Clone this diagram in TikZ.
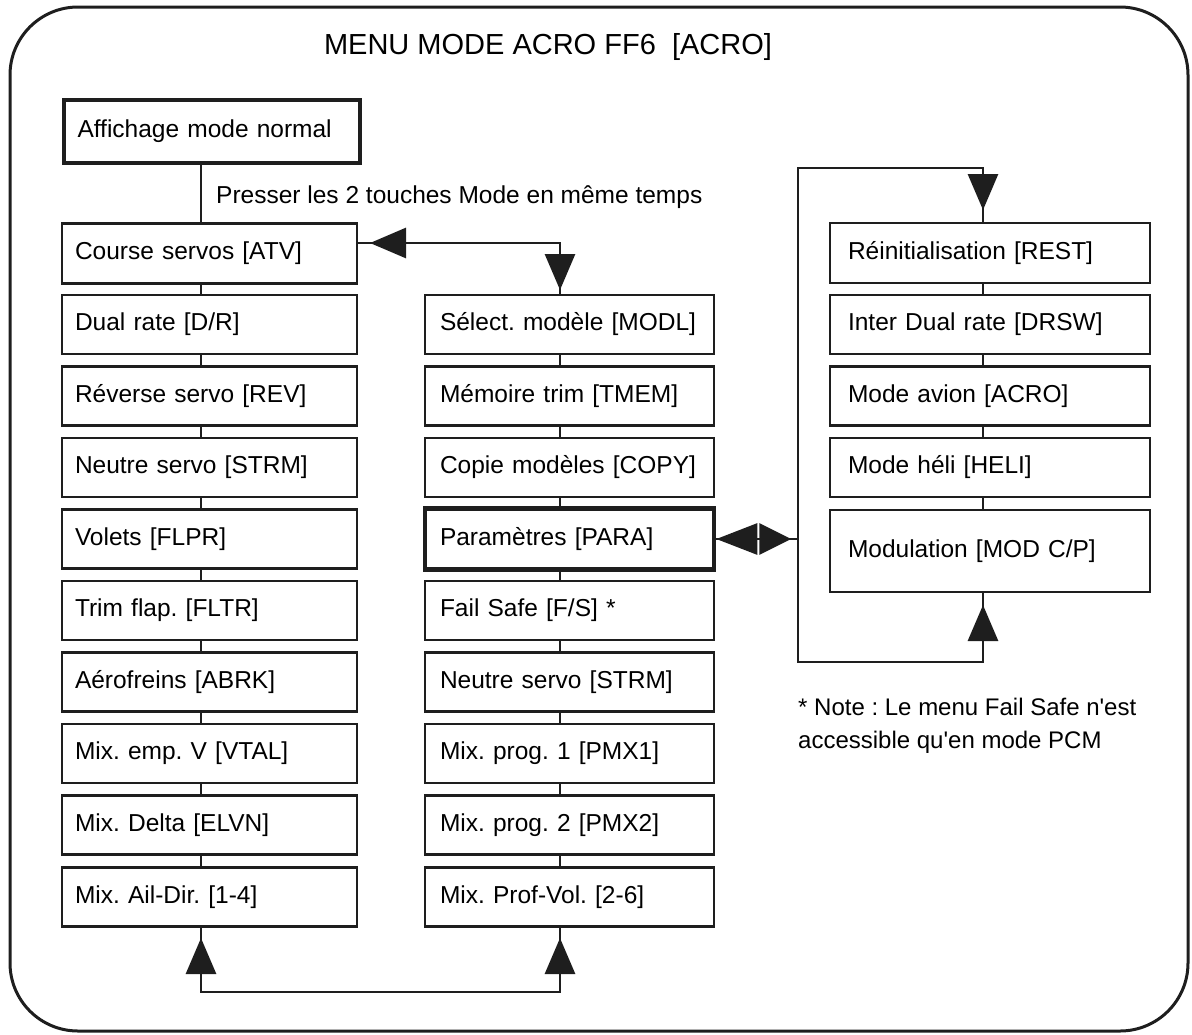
\documentclass[tikz,border=0pt]{standalone}
\usepackage{fontspec}
\setmainfont{Liberation Sans}
\usetikzlibrary{arrows.meta,decorations.markings}
\definecolor{ink}{HTML}{1E1E1E}
\begin{document}
\frenchspacing
\begin{tikzpicture}[x=1pt,y=-1pt,
  box/.style={draw=ink, line width=2.6pt, fill=white, minimum height=59pt,
    inner ysep=0pt, align=left, font=\fontsize{24.5}{28}\selectfont\frenchspacing},
  lbox/.style={box, inner xsep=13pt, text width=269pt, minimum width=295pt},
  mbox/.style={box, inner xsep=15pt, text width=259pt, minimum width=289pt},
  rbox/.style={box, inner xsep=18pt, text width=284pt, minimum width=320pt},
  thick box/.style={line width=4.6pt},
  conn/.style={draw=ink, line width=2.8pt, line cap=rect},
  tri/.tip={Triangle[length=36pt,width=30pt]},
  arrowat/.style={postaction={decorate},
    decoration={markings, mark=at position #1 with {\arrow{tri}}}},
  lbl/.style={anchor=base west, inner sep=0pt, font=\fontsize{24.5}{28}\selectfont\frenchspacing}
]
\useasboundingbox (0,0) rectangle (1192,1034);
\draw[ink, line width=3pt, rounded corners=68pt] (10,7) rectangle (1188,1031);

\node[inner sep=0pt, font=\fontsize{29}{32}\selectfont] (title) at (548,47) {MENU MODE ACRO FF6 \ [ACRO]};

% left column
\node[lbox, thick box, minimum width=296pt, minimum height=63pt] (aff) at (212,131.5) {Affichage mode normal};
\node[lbox, minimum height=60pt] (l1) at (209.5,253.5) {Course servos [ATV]};
\node[lbox] (l2) at (209.5,324.5) {Dual rate [D/R]};
\node[lbox] (l3) at (209.5,396) {Réverse servo [REV]};
\node[lbox] (l4) at (209.5,467.5) {Neutre servo [STRM]};
\node[lbox] (l5) at (209.5,539) {Volets [FLPR]};
\node[lbox] (l6) at (209.5,610.5) {Trim flap. [FLTR]};
\node[lbox] (l7) at (209.5,682) {Aérofreins [ABRK]};
\node[lbox] (l8) at (209.5,753.5) {Mix. emp. V [VTAL]};
\node[lbox] (l9) at (209.5,825) {Mix. Delta [ELVN]};
\node[lbox] (l10) at (209.5,897) {Mix. Ail-Dir. [1-4]};

% middle column
\node[mbox] (m2) at (569.5,324.5) {\mbox{Sélect. modèle [MODL]}};
\node[mbox] (m3) at (569.5,396) {\mbox{Mémoire trim [TMEM]}};
\node[mbox] (m4) at (569.5,467.5) {\mbox{Copie modèles [COPY]}};
\node[mbox, thick box, minimum height=61pt] (m5) at (569.5,539) {Paramètres [PARA]};
\node[mbox] (m6) at (569.5,610.5) {Fail Safe [F/S] *};
\node[mbox] (m7) at (569.5,682) {Neutre servo [STRM]};
\node[mbox] (m8) at (569.5,753.5) {Mix. prog. 1 [PMX1]};
\node[mbox] (m9) at (569.5,825) {Mix. prog. 2 [PMX2]};
\node[mbox] (m10) at (569.5,897) {Mix. Prof-Vol. [2-6]};

% right column
\node[rbox, minimum height=60pt] (r1) at (990,253) {Réinitialisation [REST]};
\node[rbox] (r2) at (990,324.5) {Inter Dual rate [DRSW]};
\node[rbox] (r3) at (990,396) {Mode avion [ACRO]};
\node[rbox] (r4) at (990,467.5) {Mode héli [HELI]};
\node[rbox, minimum height=82pt] (r5) at (990,551) {Modulation [MOD C/P]};

% texts
\node[lbl] (presser) at (216,203) {Presser les 2 touches Mode en même temps};
\node[lbl, font=\fontsize{24}{28}\selectfont] (note1) at (798,715) {* Note : Le menu Fail Safe n\textquotesingle est};
\node[lbl, font=\fontsize{24}{28}\selectfont] (note2) at (798,748) {accessible qu\textquotesingle en mode PCM};

% connector x positions
\coordinate (cl) at (201,0);
\coordinate (cm) at (560,0);
\coordinate (cr) at (983,0);

% vertical chains
\draw[conn] (aff.south -| cl) -- (l1.north -| cl);
\foreach \a/\b in {l1/l2,l2/l3,l3/l4,l4/l5,l5/l6,l6/l7,l7/l8,l8/l9,l9/l10}
  \draw[conn] (\a.south -| cl) -- (\b.north -| cl);
\foreach \a/\b in {m2/m3,m3/m4,m4/m5,m5/m6,m6/m7,m7/m8,m8/m9,m9/m10}
  \draw[conn] (\a.south -| cm) -- (\b.north -| cm);
\foreach \a/\b in {r1/r2,r2/r3,r3/r4,r4/r5}
  \draw[conn] (\a.south -| cr) -- (\b.north -| cr);

% Course <-> Select
\coordinate (ca) at (560,243);
\draw[conn, arrowat=190pt] (ca) -- (l1.east |- ca);
\draw[conn, arrowat=47pt] (ca) -- (m2.north -| ca);

% right loop
\coordinate (tl) at (798,168);
\coordinate (tr) at (983,168);
\coordinate (bl) at (798,662);
\coordinate (br) at (983,662);
\coordinate (jn) at (798,539);
\draw[conn] (tr) -- (tl) -- (bl) -- (br);
\draw[conn, arrowat=42pt] (tr) -- (r1.north -| tr);
\draw[conn, arrowat=57pt] (br) -- (r5.south -| br);

% Parametres double arrow
\draw[conn, -{Triangle[length=41pt,width=31pt]}] (jn) -- (m5.east |- jn);
\draw[conn, postaction={decorate}, decoration={markings, mark=at position 75pt with {\arrow{Triangle[length=32pt,width=31pt]}}}] (m5.east |- jn) -- (jn);

% bottom loop
\coordinate (b1) at (201,992);
\coordinate (b2) at (560,992);
\draw[conn] (b1) -- (b2);
\draw[conn, arrowat=54pt] (b1) -- (l10.south -| b1);
\draw[conn, arrowat=54pt] (b2) -- (m10.south -| b2);
\end{tikzpicture}
\end{document}
